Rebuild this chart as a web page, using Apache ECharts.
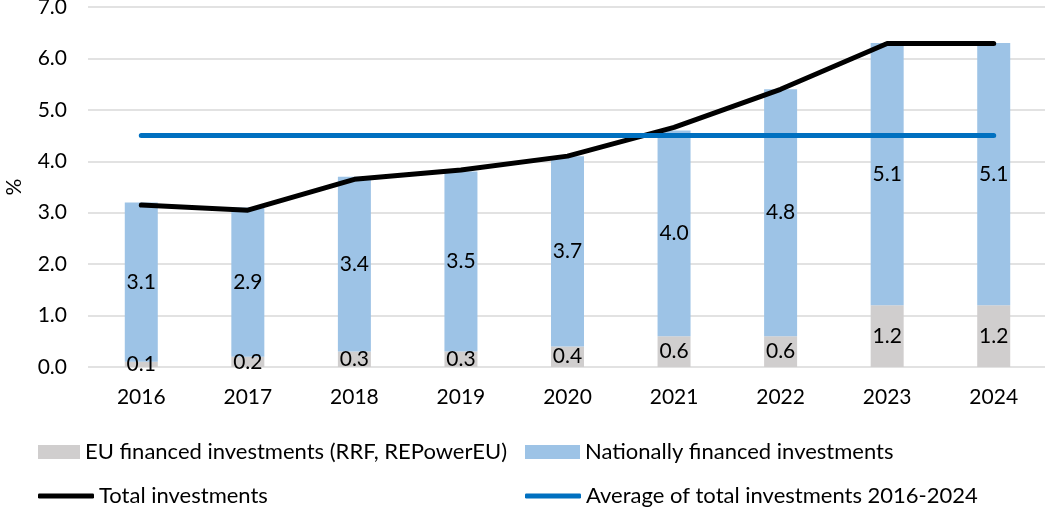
<!DOCTYPE html>
<html>
<head>
<meta charset="utf-8">
<script src="https://cdn.jsdelivr.net/npm/echarts@6/dist/echarts.min.js"></script>
<style>
  html, body { margin: 0; padding: 0; background: #fff; }
  #chart { width: 1045px; height: 507px; }
</style>
</head>
<body>
<div id="chart"></div>
<script>
var years = ['2016', '2017', '2018', '2019', '2020', '2021', '2022', '2023', '2024'];
var euFinanced = [0.1, 0.2, 0.3, 0.3, 0.4, 0.6, 0.6, 1.2, 1.2];
var nationalFinanced = [3.1, 2.9, 3.4, 3.5, 3.7, 4.0, 4.8, 5.1, 5.1];
var totalInvest = [3.15, 3.05, 3.65, 3.83, 4.1, 4.66, 5.4, 6.29, 6.29];
var averageInvest = [4.5, 4.5, 4.5, 4.5, 4.5, 4.5, 4.5, 4.5, 4.5];

var font = 'Lato';
var txt = { fontFamily: font, fontSize: 21, color: '#000' };
var legTxt = { fontFamily: font, fontSize: 22, color: '#000' };

var chart = echarts.init(document.getElementById('chart'));
chart.setOption({
  animation: false,
  textStyle: { fontFamily: font },
  grid: { left: 88, right: -2, top: 7, height: 360, containLabel: false, outerBoundsMode: 'none' },
  legend: [
    { left: 38, top: 441, padding: 0, itemWidth: 42, itemHeight: 14, textStyle: legTxt, data: [{ name: 'EU financed investments (RRF, REPowerEU)', icon: 'rect' }] },
    { left: 525, top: 441, padding: 0, itemWidth: 55, itemHeight: 14, textStyle: legTxt, data: [{ name: 'Nationally financed investments', icon: 'rect' }] },
    { left: 38, top: 485, padding: 0, itemWidth: 56, itemHeight: 5, textStyle: legTxt, data: [{ name: 'Total investments', icon: 'roundRect' }] },
    { left: 525, top: 485, padding: 0, itemWidth: 56, itemHeight: 5, textStyle: legTxt, data: [{ name: 'Average of total investments 2016-2024', icon: 'roundRect' }] }
  ],
  xAxis: {
    type: 'category',
    data: years,
    axisLine: { show: false },
    axisTick: { show: false },
    axisLabel: Object.assign({ margin: 20 }, txt)
  },
  yAxis: {
    type: 'value',
    min: 0,
    max: 7,
    interval: 1,
    name: '%',
    nameLocation: 'middle',
    nameGap: 63,
    nameTextStyle: txt,
    axisLabel: Object.assign({ margin: 21, formatter: function(v) { return v.toFixed(1); } }, txt),
    splitLine: { lineStyle: { color: '#d9d9d9', width: 1.5 } }
  },
  series: [
    {
      name: 'EU financed investments (RRF, REPowerEU)',
      type: 'bar',
      stack: 'inv',
      barWidth: 33,
      itemStyle: { color: '#d0cece' },
      label: Object.assign({ show: true, position: 'inside', formatter: function(p) { return p.value.toFixed(1); } }, txt),
      data: euFinanced
    },
    {
      name: 'Nationally financed investments',
      type: 'bar',
      stack: 'inv',
      barWidth: 33,
      itemStyle: { color: '#9dc3e6' },
      label: Object.assign({ show: true, position: 'inside', formatter: function(p) { return p.value.toFixed(1); } }, txt),
      data: nationalFinanced
    },
    {
      name: 'Total investments',
      type: 'line',
      symbol: 'none',
      lineStyle: { color: '#000', width: 5, cap: 'round' },
      itemStyle: { color: '#000' },
      data: totalInvest
    },
    {
      name: 'Average of total investments 2016-2024',
      type: 'line',
      symbol: 'none',
      lineStyle: { color: '#0070c0', width: 5, cap: 'round' },
      itemStyle: { color: '#0070c0' },
      data: averageInvest
    }
  ]
});
</script>
</body>
</html>
